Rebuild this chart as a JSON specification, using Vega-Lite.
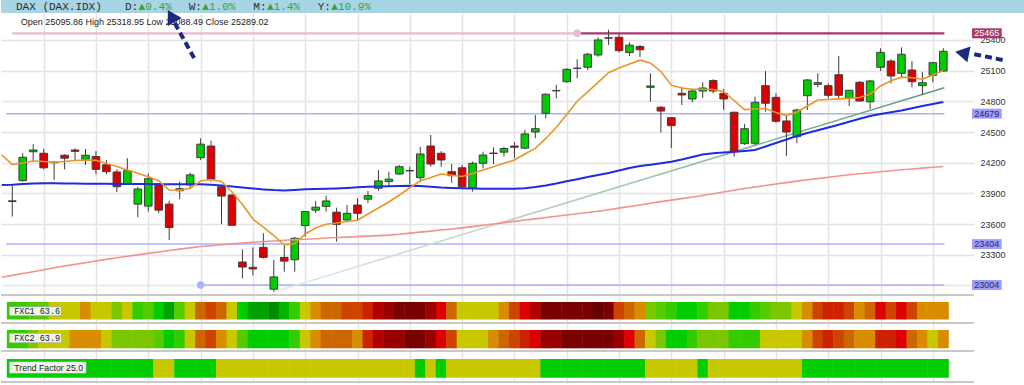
{
  "$schema": "https://vega.github.io/schema/vega-lite/v6.json",
  "padding": 0,
  "background": "white",
  "spacing": 0,
  "bounds": "flush",
  "resolve": {"scale": {"color": "independent", "x": "independent", "y": "independent"}},
  "config": {"view": {"stroke": null}},
  "datasets": {
    "bars": [
      {"i":0,"o":23820,"h":23983,"l":23673,"c":23827,"f1":-1,"f2":-1,"tf":-2},
      {"i":1,"o":24025,"h":24292,"l":24015,"c":24253,"f1":-1,"f2":-1,"tf":-2},
      {"i":2,"o":24307,"h":24381,"l":24205,"c":24324,"f1":0,"f2":1,"tf":-2},
      {"i":3,"o":24292,"h":24334,"l":24135,"c":24150,"f1":0,"f2":2,"tf":-2},
      {"i":4,"o":24200,"h":24218,"l":24032,"c":24204,"f1":2,"f2":2,"tf":-2},
      {"i":5,"o":24273,"h":24283,"l":24135,"c":24244,"f1":2,"f2":2,"tf":-2},
      {"i":6,"o":24324,"h":24341,"l":24226,"c":24311,"f1":2,"f2":3,"tf":-2},
      {"i":7,"o":24234,"h":24334,"l":24177,"c":24273,"f1":3,"f2":3,"tf":-2},
      {"i":8,"o":24260,"h":24314,"l":24087,"c":24135,"f1":2,"f2":3,"tf":-2},
      {"i":9,"o":24180,"h":24226,"l":24087,"c":24112,"f1":2,"f2":2,"tf":-2},
      {"i":10,"o":24109,"h":24135,"l":23913,"c":23965,"f1":1,"f2":1,"tf":-2},
      {"i":11,"o":23992,"h":24244,"l":23983,"c":24122,"f1":2,"f2":1,"tf":-2},
      {"i":12,"o":23795,"h":23965,"l":23667,"c":23943,"f1":-1,"f2":1,"tf":-2},
      {"i":13,"o":23776,"h":24095,"l":23722,"c":24043,"f1":0,"f2":1,"tf":-2},
      {"i":14,"o":23992,"h":23998,"l":23706,"c":23736,"f1":-2,"f2":0,"tf":2},
      {"i":15,"o":23795,"h":23827,"l":23444,"c":23567,"f1":-4,"f2":-2,"tf":2},
      {"i":16,"o":23926,"h":24015,"l":23843,"c":23946,"f1":0,"f2":-1,"tf":-2},
      {"i":17,"o":23983,"h":24103,"l":23950,"c":24081,"f1":2,"f2":2,"tf":-2},
      {"i":18,"o":24249,"h":24438,"l":24226,"c":24381,"f1":4,"f2":4,"tf":-2},
      {"i":19,"o":24363,"h":24415,"l":24015,"c":24039,"f1":5,"f2":5,"tf":-2},
      {"i":20,"o":23965,"h":23983,"l":23598,"c":23874,"f1":4,"f2":3,"tf":2},
      {"i":21,"o":23884,"h":23890,"l":23581,"c":23588,"f1":2,"f2":2,"tf":2},
      {"i":22,"o":23229,"h":23352,"l":23069,"c":23180,"f1":-2,"f2":0,"tf":2},
      {"i":23,"o":23177,"h":23372,"l":23097,"c":23161,"f1":-4,"f2":-2,"tf":2},
      {"i":24,"o":23372,"h":23510,"l":23264,"c":23274,"f1":-4,"f2":-2,"tf":2},
      {"i":25,"o":22963,"h":23249,"l":22939,"c":23083,"f1":-5,"f2":-2,"tf":2},
      {"i":26,"o":23274,"h":23395,"l":23134,"c":23238,"f1":-3,"f2":-2,"tf":2},
      {"i":27,"o":23251,"h":23476,"l":23134,"c":23461,"f1":-1,"f2":-1,"tf":2},
      {"i":28,"o":23585,"h":23725,"l":23476,"c":23722,"f1":2,"f2":2,"tf":2},
      {"i":29,"o":23736,"h":23826,"l":23708,"c":23765,"f1":3,"f2":3,"tf":2},
      {"i":30,"o":23773,"h":23878,"l":23722,"c":23826,"f1":4,"f2":4,"tf":2},
      {"i":31,"o":23716,"h":23760,"l":23428,"c":23598,"f1":4,"f2":4,"tf":2},
      {"i":32,"o":23640,"h":23786,"l":23618,"c":23705,"f1":5,"f2":4,"tf":2},
      {"i":33,"o":23786,"h":23852,"l":23640,"c":23705,"f1":5,"f2":3,"tf":2},
      {"i":34,"o":23843,"h":23924,"l":23804,"c":23878,"f1":6,"f2":6,"tf":2},
      {"i":35,"o":23950,"h":24129,"l":23924,"c":24022,"f1":8,"f2":8,"tf":2},
      {"i":36,"o":24015,"h":24112,"l":23965,"c":24039,"f1":9,"f2":9,"tf":2},
      {"i":37,"o":24089,"h":24177,"l":24081,"c":24161,"f1":10,"f2":9,"tf":2},
      {"i":38,"o":24120,"h":24161,"l":23992,"c":24123,"f1":10,"f2":10,"tf":2},
      {"i":39,"o":24053,"h":24356,"l":24015,"c":24285,"f1":10,"f2":10,"tf":-2},
      {"i":40,"o":24363,"h":24471,"l":24161,"c":24187,"f1":9,"f2":9,"tf":2},
      {"i":41,"o":24292,"h":24313,"l":24161,"c":24226,"f1":7,"f2":7,"tf":-2},
      {"i":42,"o":24112,"h":24187,"l":24005,"c":24073,"f1":4,"f2":5,"tf":2},
      {"i":43,"o":24150,"h":24177,"l":23950,"c":23965,"f1":2,"f2":2,"tf":2},
      {"i":44,"o":23950,"h":24210,"l":23917,"c":24194,"f1":2,"f2":2,"tf":2},
      {"i":45,"o":24194,"h":24307,"l":24145,"c":24275,"f1":2,"f2":2,"tf":2},
      {"i":46,"o":24290,"h":24351,"l":24187,"c":24294,"f1":2,"f2":3,"tf":2},
      {"i":47,"o":24303,"h":24356,"l":24260,"c":24338,"f1":3,"f2":4,"tf":2},
      {"i":48,"o":24363,"h":24402,"l":24244,"c":24351,"f1":5,"f2":5,"tf":2},
      {"i":49,"o":24342,"h":24520,"l":24332,"c":24481,"f1":7,"f2":6,"tf":2},
      {"i":50,"o":24500,"h":24666,"l":24439,"c":24532,"f1":8,"f2":7,"tf":2},
      {"i":51,"o":24683,"h":24878,"l":24634,"c":24869,"f1":10,"f2":9,"tf":-2},
      {"i":52,"o":24902,"h":24960,"l":24830,"c":24906,"f1":10,"f2":9,"tf":-2},
      {"i":53,"o":24992,"h":25123,"l":24982,"c":25113,"f1":10,"f2":10,"tf":-2},
      {"i":54,"o":25121,"h":25211,"l":25025,"c":25125,"f1":10,"f2":10,"tf":-2},
      {"i":55,"o":25133,"h":25275,"l":25106,"c":25260,"f1":10,"f2":10,"tf":-2},
      {"i":56,"o":25253,"h":25426,"l":25236,"c":25400,"f1":11,"f2":10,"tf":-2},
      {"i":57,"o":25417,"h":25500,"l":25351,"c":25421,"f1":10,"f2":10,"tf":-2},
      {"i":58,"o":25426,"h":25458,"l":25277,"c":25295,"f1":5,"f2":9,"tf":-2},
      {"i":59,"o":25277,"h":25375,"l":25241,"c":25349,"f1":4,"f2":7,"tf":-2},
      {"i":60,"o":25336,"h":25351,"l":25233,"c":25304,"f1":3,"f2":4,"tf":-2},
      {"i":61,"o":24937,"h":25074,"l":24796,"c":24950,"f1":1,"f2":2,"tf":2},
      {"i":62,"o":24742,"h":24754,"l":24494,"c":24705,"f1":0,"f2":1,"tf":2},
      {"i":63,"o":24640,"h":24644,"l":24342,"c":24562,"f1":-1,"f2":-2,"tf":2},
      {"i":64,"o":24878,"h":24943,"l":24764,"c":24862,"f1":-2,"f2":-2,"tf":2},
      {"i":65,"o":24823,"h":24911,"l":24790,"c":24901,"f1":-2,"f2":-1,"tf":2},
      {"i":66,"o":24901,"h":24986,"l":24832,"c":24930,"f1":-1,"f2":1,"tf":-2},
      {"i":67,"o":25003,"h":25016,"l":24878,"c":24901,"f1":1,"f2":1,"tf":2},
      {"i":68,"o":24878,"h":24920,"l":24715,"c":24823,"f1":1,"f2":1,"tf":2},
      {"i":69,"o":24693,"h":24699,"l":24260,"c":24307,"f1":-2,"f2":-1,"tf":2},
      {"i":70,"o":24386,"h":24578,"l":24373,"c":24532,"f1":-2,"f2":-1,"tf":2},
      {"i":71,"o":24390,"h":24845,"l":24370,"c":24790,"f1":-1,"f2":-1,"tf":2},
      {"i":72,"o":24953,"h":25096,"l":24699,"c":24781,"f1":0,"f2":2,"tf":2},
      {"i":73,"o":24839,"h":24878,"l":24591,"c":24605,"f1":1,"f2":2,"tf":2},
      {"i":74,"o":24608,"h":24657,"l":24266,"c":24500,"f1":1,"f2":2,"tf":2},
      {"i":75,"o":24454,"h":24728,"l":24390,"c":24715,"f1":2,"f2":2,"tf":2},
      {"i":76,"o":24855,"h":25015,"l":24715,"c":25009,"f1":3,"f2":3,"tf":-2},
      {"i":77,"o":24966,"h":25074,"l":24937,"c":24982,"f1":5,"f2":5,"tf":-2},
      {"i":78,"o":24953,"h":24976,"l":24830,"c":24859,"f1":6,"f2":6,"tf":-2},
      {"i":79,"o":25060,"h":25243,"l":24830,"c":24859,"f1":6,"f2":5,"tf":-2},
      {"i":80,"o":24830,"h":24911,"l":24754,"c":24908,"f1":5,"f2":4,"tf":-2},
      {"i":81,"o":24986,"h":24999,"l":24800,"c":24803,"f1":3,"f2":3,"tf":-2},
      {"i":82,"o":24796,"h":25009,"l":24725,"c":24999,"f1":4,"f2":3,"tf":-2},
      {"i":83,"o":25133,"h":25318,"l":25096,"c":25279,"f1":7,"f2":6,"tf":-2},
      {"i":84,"o":25194,"h":25211,"l":24976,"c":25048,"f1":5,"f2":6,"tf":-2},
      {"i":85,"o":25074,"h":25328,"l":25040,"c":25260,"f1":7,"f2":7,"tf":-2},
      {"i":86,"o":25106,"h":25194,"l":24937,"c":24992,"f1":5,"f2":4,"tf":-2},
      {"i":87,"o":24953,"h":25087,"l":24862,"c":24982,"f1":3,"f2":3,"tf":-2},
      {"i":88,"o":25054,"h":25185,"l":24986,"c":25178,"f1":3,"f2":2,"tf":-2},
      {"i":89,"o":25095.86,"h":25318.95,"l":25088.49,"c":25289.02,"f1":3,"f2":3,"tf":-2}
    ],
    "ma": [
      {"i":-1,"e":24275,"m":23982,"p":23080},{"i":0,"e":24182,"m":23984,"p":23098},{"i":1,"e":24197,"m":23992,"p":23116},{"i":2,"e":24217,"m":23997,"p":23134},{"i":3,"e":24212,"m":23999,"p":23154},{"i":4,"e":24205,"m":23998,"p":23173},{"i":5,"e":24212,"m":23997,"p":23190},{"i":6,"e":24221,"m":23996,"p":23206},{"i":7,"e":24226,"m":23995,"p":23222},{"i":8,"e":24223,"m":23994,"p":23239},{"i":9,"e":24192,"m":23993,"p":23255},
      {"i":10,"e":24162,"m":23992,"p":23270},{"i":11,"e":24129,"m":23992,"p":23285},{"i":12,"e":24096,"m":23991,"p":23299},{"i":13,"e":24062,"m":23991,"p":23313},{"i":14,"e":24023,"m":23990,"p":23327},{"i":15,"e":23933,"m":23990,"p":23342},{"i":16,"e":23931,"m":23989,"p":23355},{"i":17,"e":23950,"m":23989,"p":23367},{"i":18,"e":24021,"m":23989,"p":23380},{"i":19,"e":24036,"m":23984,"p":23388},
      {"i":20,"e":24016,"m":23976,"p":23397},{"i":21,"e":23913,"m":23968,"p":23406},{"i":22,"e":23791,"m":23957,"p":23414},{"i":23,"e":23649,"m":23948,"p":23422},{"i":24,"e":23571,"m":23939,"p":23429},{"i":25,"e":23488,"m":23932,"p":23435},{"i":26,"e":23395,"m":23928,"p":23442},{"i":27,"e":23410,"m":23933,"p":23448},{"i":28,"e":23503,"m":23940,"p":23452},{"i":29,"e":23561,"m":23943,"p":23457},
      {"i":30,"e":23598,"m":23945,"p":23463},{"i":31,"e":23610,"m":23948,"p":23468},{"i":32,"e":23625,"m":23953,"p":23472},{"i":33,"e":23638,"m":23959,"p":23477},{"i":34,"e":23698,"m":23965,"p":23482},{"i":35,"e":23757,"m":23967,"p":23487},{"i":36,"e":23816,"m":23969,"p":23492},{"i":37,"e":23884,"m":23972,"p":23500},{"i":38,"e":23955,"m":23974,"p":23511},{"i":39,"e":24021,"m":23972,"p":23521},
      {"i":40,"e":24055,"m":23964,"p":23531},{"i":41,"e":24089,"m":23957,"p":23542},{"i":42,"e":24077,"m":23953,"p":23552},{"i":43,"e":24065,"m":23949,"p":23563},{"i":44,"e":24094,"m":23947,"p":23575},{"i":45,"e":24129,"m":23946,"p":23588},{"i":46,"e":24161,"m":23946,"p":23601},{"i":47,"e":24194,"m":23946,"p":23614},{"i":48,"e":24226,"m":23946,"p":23626},{"i":49,"e":24285,"m":23951,"p":23639},
      {"i":50,"e":24340,"m":23962,"p":23651},{"i":51,"e":24437,"m":23977,"p":23664},{"i":52,"e":24544,"m":23996,"p":23676},{"i":53,"e":24671,"m":24018,"p":23689},{"i":54,"e":24801,"m":24039,"p":23701},{"i":55,"e":24893,"m":24060,"p":23713},{"i":56,"e":24986,"m":24080,"p":23726},{"i":57,"e":25079,"m":24099,"p":23740},{"i":58,"e":25126,"m":24124,"p":23756},{"i":59,"e":25165,"m":24148,"p":23772},
      {"i":60,"e":25202,"m":24168,"p":23787},{"i":61,"e":25175,"m":24179,"p":23803},{"i":62,"e":25092,"m":24195,"p":23819},{"i":63,"e":24958,"m":24209,"p":23834},{"i":64,"e":24930,"m":24231,"p":23849},{"i":65,"e":24918,"m":24256,"p":23865},{"i":66,"e":24918,"m":24279,"p":23880},{"i":67,"e":24916,"m":24292,"p":23897},{"i":68,"e":24894,"m":24300,"p":23913},{"i":69,"e":24808,"m":24306,"p":23930},
      {"i":70,"e":24719,"m":24315,"p":23947},{"i":71,"e":24725,"m":24324,"p":23962},{"i":72,"e":24730,"m":24358,"p":23977},{"i":73,"e":24690,"m":24393,"p":23991},{"i":74,"e":24660,"m":24427,"p":24005},{"i":75,"e":24696,"m":24461,"p":24020},{"i":76,"e":24754,"m":24490,"p":24033},{"i":77,"e":24813,"m":24518,"p":24044},{"i":78,"e":24818,"m":24544,"p":24057},{"i":79,"e":24824,"m":24571,"p":24070},
      {"i":80,"e":24829,"m":24600,"p":24082},{"i":81,"e":24838,"m":24629,"p":24092},{"i":82,"e":24870,"m":24657,"p":24102},{"i":83,"e":24950,"m":24676,"p":24111},{"i":84,"e":25001,"m":24694,"p":24121},{"i":85,"e":25036,"m":24710,"p":24131},{"i":86,"e":25030,"m":24732,"p":24139},{"i":87,"e":25016,"m":24754,"p":24147},{"i":88,"e":25057,"m":24774,"p":24155},{"i":89,"e":25102,"m":24794,"p":24162}
    ]
  },
  "vconcat": [
    {
      "width": 1024,
      "height": 13,
      "view": {"fill": "#a8d5e5", "stroke": null},
      "data": {"values": [{}]},
      "encoding": {
        "y": {"datum": 0.5, "type": "quantitative", "scale": {"domain": [0, 1], "nice": false, "zero": false}, "axis": null}
      },
      "layer": [
        {"mark": {"type": "text", "text": "DAX (DAX.IDX)", "align": "left", "baseline": "middle", "font": "Liberation Mono", "fontSize": 11, "color": "#2b2b2b"},
         "encoding": {"x": {"datum": 0.82, "type": "quantitative", "scale": {"domain": [-0.6, 96.28], "nice": false, "zero": false}, "axis": null}}},
        {"mark": {"type": "text", "text": "D:", "align": "left", "baseline": "middle", "font": "Liberation Mono", "fontSize": 11, "color": "#2b2b2b"},
         "encoding": {"x": {"datum": 11.13, "type": "quantitative", "scale": {"domain": [-0.6, 96.28], "nice": false, "zero": false}, "axis": null}}},
        {"mark": {"type": "text", "text": "▲0.4%", "align": "left", "baseline": "middle", "font": "Liberation Mono", "fontSize": 11, "color": "#3a9e3a"},
         "encoding": {"x": {"datum": 12.42, "type": "quantitative", "scale": {"domain": [-0.6, 96.28], "nice": false, "zero": false}, "axis": null}}},
        {"mark": {"type": "text", "text": "W:", "align": "left", "baseline": "middle", "font": "Liberation Mono", "fontSize": 11, "color": "#2b2b2b"},
         "encoding": {"x": {"datum": 17.16, "type": "quantitative", "scale": {"domain": [-0.6, 96.28], "nice": false, "zero": false}, "axis": null}}},
        {"mark": {"type": "text", "text": "▲1.0%", "align": "left", "baseline": "middle", "font": "Liberation Mono", "fontSize": 11, "color": "#3a9e3a"},
         "encoding": {"x": {"datum": 18.45, "type": "quantitative", "scale": {"domain": [-0.6, 96.28], "nice": false, "zero": false}, "axis": null}}},
        {"mark": {"type": "text", "text": "M:", "align": "left", "baseline": "middle", "font": "Liberation Mono", "fontSize": 11, "color": "#2b2b2b"},
         "encoding": {"x": {"datum": 23.27, "type": "quantitative", "scale": {"domain": [-0.6, 96.28], "nice": false, "zero": false}, "axis": null}}},
        {"mark": {"type": "text", "text": "▲1.4%", "align": "left", "baseline": "middle", "font": "Liberation Mono", "fontSize": 11, "color": "#3a9e3a"},
         "encoding": {"x": {"datum": 24.56, "type": "quantitative", "scale": {"domain": [-0.6, 96.28], "nice": false, "zero": false}, "axis": null}}},
        {"mark": {"type": "text", "text": "Y:", "align": "left", "baseline": "middle", "font": "Liberation Mono", "fontSize": 11, "color": "#2b2b2b"},
         "encoding": {"x": {"datum": 29.36, "type": "quantitative", "scale": {"domain": [-0.6, 96.28], "nice": false, "zero": false}, "axis": null}}},
        {"mark": {"type": "text", "text": "▲10.9%", "align": "left", "baseline": "middle", "font": "Liberation Mono", "fontSize": 11, "color": "#3a9e3a"},
         "encoding": {"x": {"datum": 30.65, "type": "quantitative", "scale": {"domain": [-0.6, 96.28], "nice": false, "zero": false}, "axis": null}}}
      ]
    },
    {
      "width": 973,
      "height": 282,
      "layer": [
        {
          "data": {"values": [
            {"lv": 25465, "x1": 0, "x2": 54, "k": "old"},
            {"lv": 25465, "x1": 54, "x2": 89.1, "k": "res"},
            {"lv": 24679, "x1": -0.6, "x2": 89.1, "k": "sup"},
            {"lv": 23404, "x1": -0.6, "x2": 89.1, "k": "sup"},
            {"lv": 23004, "x1": 18, "x2": 89.1, "k": "sup"}
          ]},
          "mark": {"type": "rule"},
          "encoding": {
            "x": {"field": "x1", "type": "quantitative", "scale": {"domain": [-0.6, 91.453], "nice": false, "zero": false},
                  "axis": {"orient": "bottom", "values": [3,8,13,18,23,28,33,38,43,48,53,58,63,68,73,78,83,88], "grid": true, "gridColor": "#e4e4e4", "gridWidth": 1.5, "labels": false, "ticks": false, "domain": false, "title": null}},
            "x2": {"field": "x2"},
            "y": {"field": "lv", "type": "quantitative", "scale": {"domain": [22906.4, 25663.5], "nice": false, "zero": false},
                  "axis": {"orient": "right", "values": [23000,23300,23600,23900,24200,24500,24800,25100,25400], "format": "d", "labelExpr": "datum.value == 23000 ? '' : datum.label", "grid": true, "gridColor": "#e4e4e4", "gridWidth": 1.5, "ticks": false, "domain": false, "labelPadding": 6, "labelFont": "Liberation Sans", "labelFontSize": 9, "labelColor": "#333333", "title": null}},
            "color": {"field": "k", "type": "nominal", "scale": {"domain": ["old", "res", "sup"], "range": ["#e9b9d0", "#a8376c", "#aab2ff"]}, "legend": null},
            "strokeWidth": {"condition": {"test": "datum.k === 'sup'", "value": 1.5}, "value": 2.2}
          }
        },
        {
          "data": {"values": [{"i": 54, "lv": 25465, "k": "old"}, {"i": 18, "lv": 23004, "k": "sup"}]},
          "mark": {"type": "point", "filled": true, "size": 55, "opacity": 1},
          "encoding": {
            "x": {"field": "i", "type": "quantitative", "scale": {"domain": [-0.6, 91.453], "nice": false, "zero": false},
                  "axis": {"orient": "bottom", "values": [3,8,13,18,23,28,33,38,43,48,53,58,63,68,73,78,83,88], "grid": true, "gridColor": "#e4e4e4", "gridWidth": 1.5, "labels": false, "ticks": false, "domain": false, "title": null}},
            "y": {"field": "lv", "type": "quantitative", "scale": {"domain": [22906.4, 25663.5], "nice": false, "zero": false},
                  "axis": {"orient": "right", "values": [23000,23300,23600,23900,24200,24500,24800,25100,25400], "format": "d", "labelExpr": "datum.value == 23000 ? '' : datum.label", "grid": true, "gridColor": "#e4e4e4", "gridWidth": 1.5, "ticks": false, "domain": false, "labelPadding": 6, "labelFont": "Liberation Sans", "labelFontSize": 9, "labelColor": "#333333", "title": null}},
            "color": {"field": "k", "type": "nominal", "scale": {"domain": ["old", "res", "sup"], "range": ["#e9b9d0", "#a8376c", "#aab2ff"]}, "legend": null}
          }
        },
        {
          "data": {"values": [{"i": 25, "v": 22936}, {"i": 89.1, "v": 24933}]},
          "mark": {"type": "line", "strokeWidth": 1.6, "stroke": {"gradient": "linear", "stops": [{"offset": 0, "color": "#e2e9e4"}, {"offset": 0.5, "color": "#a9cbb7"}, {"offset": 1, "color": "#5a9c7c"}]}},
          "encoding": {
            "x": {"field": "i", "type": "quantitative", "scale": {"domain": [-0.6, 91.453], "nice": false, "zero": false},
                  "axis": {"orient": "bottom", "values": [3,8,13,18,23,28,33,38,43,48,53,58,63,68,73,78,83,88], "grid": true, "gridColor": "#e4e4e4", "gridWidth": 1.5, "labels": false, "ticks": false, "domain": false, "title": null}},
            "y": {"field": "v", "type": "quantitative", "scale": {"domain": [22906.4, 25663.5], "nice": false, "zero": false},
                  "axis": {"orient": "right", "values": [23000,23300,23600,23900,24200,24500,24800,25100,25400], "format": "d", "labelExpr": "datum.value == 23000 ? '' : datum.label", "grid": true, "gridColor": "#e4e4e4", "gridWidth": 1.5, "ticks": false, "domain": false, "labelPadding": 6, "labelFont": "Liberation Sans", "labelFontSize": 9, "labelColor": "#333333", "title": null}}
          }
        },
        {
          "data": {"name": "bars"},
          "mark": {"type": "rule", "color": "#3d3d3d", "strokeWidth": 1},
          "encoding": {
            "x": {"field": "i", "type": "quantitative", "scale": {"domain": [-0.6, 91.453], "nice": false, "zero": false},
                  "axis": {"orient": "bottom", "values": [3,8,13,18,23,28,33,38,43,48,53,58,63,68,73,78,83,88], "grid": true, "gridColor": "#e4e4e4", "gridWidth": 1.5, "labels": false, "ticks": false, "domain": false, "title": null}},
            "y": {"field": "l", "type": "quantitative", "scale": {"domain": [22906.4, 25663.5], "nice": false, "zero": false},
                  "axis": {"orient": "right", "values": [23000,23300,23600,23900,24200,24500,24800,25100,25400], "format": "d", "labelExpr": "datum.value == 23000 ? '' : datum.label", "grid": true, "gridColor": "#e4e4e4", "gridWidth": 1.5, "ticks": false, "domain": false, "labelPadding": 6, "labelFont": "Liberation Sans", "labelFontSize": 9, "labelColor": "#333333", "title": null}},
            "y2": {"field": "h"}
          }
        },
        {
          "data": {"name": "bars"},
          "mark": {"type": "bar", "width": 7.6, "stroke": "#3d3d3d", "strokeWidth": 1},
          "encoding": {
            "x": {"field": "i", "type": "quantitative", "scale": {"domain": [-0.6, 91.453], "nice": false, "zero": false},
                  "axis": {"orient": "bottom", "values": [3,8,13,18,23,28,33,38,43,48,53,58,63,68,73,78,83,88], "grid": true, "gridColor": "#e4e4e4", "gridWidth": 1.5, "labels": false, "ticks": false, "domain": false, "title": null}},
            "y": {"field": "o", "type": "quantitative", "scale": {"domain": [22906.4, 25663.5], "nice": false, "zero": false},
                  "axis": {"orient": "right", "values": [23000,23300,23600,23900,24200,24500,24800,25100,25400], "format": "d", "labelExpr": "datum.value == 23000 ? '' : datum.label", "grid": true, "gridColor": "#e4e4e4", "gridWidth": 1.5, "ticks": false, "domain": false, "labelPadding": 6, "labelFont": "Liberation Sans", "labelFontSize": 9, "labelColor": "#333333", "title": null}},
            "y2": {"field": "c"},
            "fill": {"condition": {"test": "datum.c >= datum.o", "value": "#00cc00"}, "value": "#dd0000"}
          }
        },
        {
          "data": {"name": "ma"},
          "mark": {"type": "line", "color": "#f4918f", "strokeWidth": 1.6, "clip": true},
          "encoding": {
            "x": {"field": "i", "type": "quantitative", "scale": {"domain": [-0.6, 91.453], "nice": false, "zero": false},
                  "axis": {"orient": "bottom", "values": [3,8,13,18,23,28,33,38,43,48,53,58,63,68,73,78,83,88], "grid": true, "gridColor": "#e4e4e4", "gridWidth": 1.5, "labels": false, "ticks": false, "domain": false, "title": null}},
            "y": {"field": "p", "type": "quantitative", "scale": {"domain": [22906.4, 25663.5], "nice": false, "zero": false},
                  "axis": {"orient": "right", "values": [23000,23300,23600,23900,24200,24500,24800,25100,25400], "format": "d", "labelExpr": "datum.value == 23000 ? '' : datum.label", "grid": true, "gridColor": "#e4e4e4", "gridWidth": 1.5, "ticks": false, "domain": false, "labelPadding": 6, "labelFont": "Liberation Sans", "labelFontSize": 9, "labelColor": "#333333", "title": null}}
          }
        },
        {
          "data": {"name": "ma"},
          "mark": {"type": "line", "color": "#1f2ae6", "strokeWidth": 2, "clip": true},
          "encoding": {
            "x": {"field": "i", "type": "quantitative", "scale": {"domain": [-0.6, 91.453], "nice": false, "zero": false},
                  "axis": {"orient": "bottom", "values": [3,8,13,18,23,28,33,38,43,48,53,58,63,68,73,78,83,88], "grid": true, "gridColor": "#e4e4e4", "gridWidth": 1.5, "labels": false, "ticks": false, "domain": false, "title": null}},
            "y": {"field": "m", "type": "quantitative", "scale": {"domain": [22906.4, 25663.5], "nice": false, "zero": false},
                  "axis": {"orient": "right", "values": [23000,23300,23600,23900,24200,24500,24800,25100,25400], "format": "d", "labelExpr": "datum.value == 23000 ? '' : datum.label", "grid": true, "gridColor": "#e4e4e4", "gridWidth": 1.5, "ticks": false, "domain": false, "labelPadding": 6, "labelFont": "Liberation Sans", "labelFontSize": 9, "labelColor": "#333333", "title": null}}
          }
        },
        {
          "data": {"name": "ma"},
          "mark": {"type": "line", "color": "#ea9526", "strokeWidth": 1.6, "clip": true},
          "encoding": {
            "x": {"field": "i", "type": "quantitative", "scale": {"domain": [-0.6, 91.453], "nice": false, "zero": false},
                  "axis": {"orient": "bottom", "values": [3,8,13,18,23,28,33,38,43,48,53,58,63,68,73,78,83,88], "grid": true, "gridColor": "#e4e4e4", "gridWidth": 1.5, "labels": false, "ticks": false, "domain": false, "title": null}},
            "y": {"field": "e", "type": "quantitative", "scale": {"domain": [22906.4, 25663.5], "nice": false, "zero": false},
                  "axis": {"orient": "right", "values": [23000,23300,23600,23900,24200,24500,24800,25100,25400], "format": "d", "labelExpr": "datum.value == 23000 ? '' : datum.label", "grid": true, "gridColor": "#e4e4e4", "gridWidth": 1.5, "ticks": false, "domain": false, "labelPadding": 6, "labelFont": "Liberation Sans", "labelFontSize": 9, "labelColor": "#333333", "title": null}}
          }
        },
        {
          "data": {"values": [{"t": "Open 25095.86 High 25318.95 Low 25088.49 Close 25289.02"}]},
          "mark": {"type": "text", "align": "left", "baseline": "middle", "font": "Liberation Sans", "fontSize": 9, "color": "#222222"},
          "encoding": {
            "x": {"datum": 0.82, "type": "quantitative", "scale": {"domain": [-0.6, 91.453], "nice": false, "zero": false},
                  "axis": {"orient": "bottom", "values": [3,8,13,18,23,28,33,38,43,48,53,58,63,68,73,78,83,88], "grid": true, "gridColor": "#e4e4e4", "gridWidth": 1.5, "labels": false, "ticks": false, "domain": false, "title": null}},
            "y": {"datum": 25575, "type": "quantitative", "scale": {"domain": [22906.4, 25663.5], "nice": false, "zero": false},
                  "axis": {"orient": "right", "values": [23000,23300,23600,23900,24200,24500,24800,25100,25400], "format": "d", "labelExpr": "datum.value == 23000 ? '' : datum.label", "grid": true, "gridColor": "#e4e4e4", "gridWidth": 1.5, "ticks": false, "domain": false, "labelPadding": 6, "labelFont": "Liberation Sans", "labelFontSize": 9, "labelColor": "#333333", "title": null}},
            "text": {"field": "t"}
          }
        },
        {
          "data": {"values": [{"lv": 25465, "k": "res"}, {"lv": 24679, "k": "sup"}, {"lv": 23404, "k": "sup"}, {"lv": 23004, "k": "sup"}]},
          "mark": {"type": "rule", "strokeWidth": 10, "strokeCap": "butt"},
          "encoding": {
            "x": {"datum": 91.74, "type": "quantitative", "scale": {"domain": [-0.6, 91.453], "nice": false, "zero": false},
                  "axis": {"orient": "bottom", "values": [3,8,13,18,23,28,33,38,43,48,53,58,63,68,73,78,83,88], "grid": true, "gridColor": "#e4e4e4", "gridWidth": 1.5, "labels": false, "ticks": false, "domain": false, "title": null}},
            "x2": {"datum": 94.58},
            "y": {"field": "lv", "type": "quantitative", "scale": {"domain": [22906.4, 25663.5], "nice": false, "zero": false},
                  "axis": {"orient": "right", "values": [23000,23300,23600,23900,24200,24500,24800,25100,25400], "format": "d", "labelExpr": "datum.value == 23000 ? '' : datum.label", "grid": true, "gridColor": "#e4e4e4", "gridWidth": 1.5, "ticks": false, "domain": false, "labelPadding": 6, "labelFont": "Liberation Sans", "labelFontSize": 9, "labelColor": "#333333", "title": null}},
            "stroke": {"condition": {"test": "datum.k === 'res'", "value": "#a8386d"}, "value": "#9d9dfa"}
          }
        },
        {
          "data": {"values": [{"lv": 25465, "k": "res"}, {"lv": 24679, "k": "sup"}, {"lv": 23404, "k": "sup"}, {"lv": 23004, "k": "sup"}]},
          "mark": {"type": "text", "align": "center", "baseline": "middle", "font": "Liberation Sans", "fontSize": 9},
          "encoding": {
            "x": {"datum": 93.16, "type": "quantitative", "scale": {"domain": [-0.6, 91.453], "nice": false, "zero": false},
                  "axis": {"orient": "bottom", "values": [3,8,13,18,23,28,33,38,43,48,53,58,63,68,73,78,83,88], "grid": true, "gridColor": "#e4e4e4", "gridWidth": 1.5, "labels": false, "ticks": false, "domain": false, "title": null}},
            "y": {"field": "lv", "type": "quantitative", "scale": {"domain": [22906.4, 25663.5], "nice": false, "zero": false},
                  "axis": {"orient": "right", "values": [23000,23300,23600,23900,24200,24500,24800,25100,25400], "format": "d", "labelExpr": "datum.value == 23000 ? '' : datum.label", "grid": true, "gridColor": "#e4e4e4", "gridWidth": 1.5, "ticks": false, "domain": false, "labelPadding": 6, "labelFont": "Liberation Sans", "labelFontSize": 9, "labelColor": "#333333", "title": null}},
            "text": {"field": "lv", "type": "quantitative", "format": "d"},
            "color": {"condition": {"test": "datum.k === 'res'", "value": "#ffffff"}, "value": "#2a2a66"}
          }
        },
        {
          "data": {"values": [{}]},
          "mark": {"type": "rule", "color": "#1b2a7f", "strokeWidth": 4, "strokeDash": [7, 4], "strokeCap": "butt"},
          "encoding": {
            "x": {"datum": 17.38, "type": "quantitative", "scale": {"domain": [-0.6, 91.453], "nice": false, "zero": false},
                  "axis": {"orient": "bottom", "values": [3,8,13,18,23,28,33,38,43,48,53,58,63,68,73,78,83,88], "grid": true, "gridColor": "#e4e4e4", "gridWidth": 1.5, "labels": false, "ticks": false, "domain": false, "title": null}},
            "y": {"datum": 25223, "type": "quantitative", "scale": {"domain": [22906.4, 25663.5], "nice": false, "zero": false},
                  "axis": {"orient": "right", "values": [23000,23300,23600,23900,24200,24500,24800,25100,25400], "format": "d", "labelExpr": "datum.value == 23000 ? '' : datum.label", "grid": true, "gridColor": "#e4e4e4", "gridWidth": 1.5, "ticks": false, "domain": false, "labelPadding": 6, "labelFont": "Liberation Sans", "labelFontSize": 9, "labelColor": "#333333", "title": null}},
            "x2": {"datum": 15.48},
            "y2": {"datum": 25575}
          }
        },
        {
          "data": {"values": [{}]},
          "mark": {"type": "rule", "color": "#1b2a7f", "strokeWidth": 4, "strokeDash": [7, 4], "strokeCap": "butt"},
          "encoding": {
            "x": {"datum": 94.67, "type": "quantitative", "scale": {"domain": [-0.6, 91.453], "nice": false, "zero": false},
                  "axis": {"orient": "bottom", "values": [3,8,13,18,23,28,33,38,43,48,53,58,63,68,73,78,83,88], "grid": true, "gridColor": "#e4e4e4", "gridWidth": 1.5, "labels": false, "ticks": false, "domain": false, "title": null}},
            "y": {"datum": 25204, "type": "quantitative", "scale": {"domain": [22906.4, 25663.5], "nice": false, "zero": false},
                  "axis": {"orient": "right", "values": [23000,23300,23600,23900,24200,24500,24800,25100,25400], "format": "d", "labelExpr": "datum.value == 23000 ? '' : datum.label", "grid": true, "gridColor": "#e4e4e4", "gridWidth": 1.5, "ticks": false, "domain": false, "labelPadding": 6, "labelFont": "Liberation Sans", "labelFontSize": 9, "labelColor": "#333333", "title": null}},
            "x2": {"datum": 91.64},
            "y2": {"datum": 25267}
          }
        },
        {
          "data": {"values": [{}]},
          "mark": {"type": "point", "shape": "triangle-up", "filled": true, "size": 260, "angle": 330, "color": "#1b2a7f", "opacity": 1},
          "encoding": {
            "x": {"datum": 15.2, "type": "quantitative", "scale": {"domain": [-0.6, 91.453], "nice": false, "zero": false},
                  "axis": {"orient": "bottom", "values": [3,8,13,18,23,28,33,38,43,48,53,58,63,68,73,78,83,88], "grid": true, "gridColor": "#e4e4e4", "gridWidth": 1.5, "labels": false, "ticks": false, "domain": false, "title": null}},
            "y": {"datum": 25634, "type": "quantitative", "scale": {"domain": [22906.4, 25663.5], "nice": false, "zero": false},
                  "axis": {"orient": "right", "values": [23000,23300,23600,23900,24200,24500,24800,25100,25400], "format": "d", "labelExpr": "datum.value == 23000 ? '' : datum.label", "grid": true, "gridColor": "#e4e4e4", "gridWidth": 1.5, "ticks": false, "domain": false, "labelPadding": 6, "labelFont": "Liberation Sans", "labelFontSize": 9, "labelColor": "#333333", "title": null}}
          }
        },
        {
          "data": {"values": [{}]},
          "mark": {"type": "point", "shape": "triangle-up", "filled": true, "size": 260, "angle": 281, "color": "#1b2a7f", "opacity": 1},
          "encoding": {
            "x": {"datum": 90.79, "type": "quantitative", "scale": {"domain": [-0.6, 91.453], "nice": false, "zero": false},
                  "axis": {"orient": "bottom", "values": [3,8,13,18,23,28,33,38,43,48,53,58,63,68,73,78,83,88], "grid": true, "gridColor": "#e4e4e4", "gridWidth": 1.5, "labels": false, "ticks": false, "domain": false, "title": null}},
            "y": {"datum": 25272, "type": "quantitative", "scale": {"domain": [22906.4, 25663.5], "nice": false, "zero": false},
                  "axis": {"orient": "right", "values": [23000,23300,23600,23900,24200,24500,24800,25100,25400], "format": "d", "labelExpr": "datum.value == 23000 ? '' : datum.label", "grid": true, "gridColor": "#e4e4e4", "gridWidth": 1.5, "ticks": false, "domain": false, "labelPadding": 6, "labelFont": "Liberation Sans", "labelFontSize": 9, "labelColor": "#333333", "title": null}}
          }
        }
      ]
    },
    {
      "width": 973,
      "height": 28,
      "encoding": {
        "x": {"type": "quantitative", "scale": {"domain": [-0.6, 91.453], "nice": false, "zero": false},
              "axis": {"orient": "bottom", "values": [3,8,13,18,23,28,33,38,43,48,53,58,63,68,73,78,83,88], "grid": true, "gridColor": "#e4e4e4", "gridWidth": 1.5, "labels": false, "ticks": false, "domain": false, "title": null}}
      },
      "layer": [
        {
          "data": {"name": "bars"},
          "mark": {"type": "bar", "width": 10.9},
          "encoding": {
            "x": {"field": "i", "type": "quantitative"},
            "y": {"datum": 0.75, "type": "quantitative", "scale": {"domain": [0, 1], "nice": false, "zero": false}, "axis": null},
            "y2": {"datum": 0.125},
            "color": {"field": "f1", "type": "ordinal", "scale": {"domain": [-5,-4,-3,-2,-1,0,1,2,3,4,5,6,7,8,9,10,11], "range": ["#008a00","#00a200","#00b400","#00cc00","#33cc00","#55cc00","#7ac600","#c8c800","#d88c00","#cc6600","#cc4400","#cc2200","#dd0000","#b00000","#990000","#7a0000","#650000"]}, "legend": null}
          }
        },
        {
          "data": {"values": [{}]},
          "mark": {"type": "rule", "color": "#c9c9c9", "strokeWidth": 2},
          "encoding": {"x": null, "y": {"datum": 1, "type": "quantitative", "scale": {"domain": [0, 1], "nice": false, "zero": false}, "axis": null}}
        },
        {
          "data": {"values": [{}]},
          "mark": {"type": "rect", "fill": "#eef6ea", "stroke": "#9c9c9c", "strokeWidth": 0.6},
          "encoding": {
            "x": {"datum": -0.29, "type": "quantitative"},
            "x2": {"datum": 4.7},
            "y": {"datum": 0.582, "type": "quantitative", "scale": {"domain": [0, 1], "nice": false, "zero": false}, "axis": null},
            "y2": {"datum": 0.261}
          }
        },
        {
          "data": {"values": [{}]},
          "mark": {"type": "text", "text": "FXC1 63.6", "align": "left", "baseline": "middle", "font": "Liberation Mono", "fontSize": 8.5, "color": "#1a1a1a"},
          "encoding": {
            "x": {"datum": 0.19, "type": "quantitative"},
            "y": {"datum": 0.43, "type": "quantitative", "scale": {"domain": [0, 1], "nice": false, "zero": false}, "axis": null}
          }
        }
      ]
    },
    {
      "width": 973,
      "height": 28,
      "encoding": {
        "x": {"type": "quantitative", "scale": {"domain": [-0.6, 91.453], "nice": false, "zero": false},
              "axis": {"orient": "bottom", "values": [3,8,13,18,23,28,33,38,43,48,53,58,63,68,73,78,83,88], "grid": true, "gridColor": "#e4e4e4", "gridWidth": 1.5, "labels": false, "ticks": false, "domain": false, "title": null}}
      },
      "layer": [
        {
          "data": {"name": "bars"},
          "mark": {"type": "bar", "width": 10.9},
          "encoding": {
            "x": {"field": "i", "type": "quantitative"},
            "y": {"datum": 0.75, "type": "quantitative", "scale": {"domain": [0, 1], "nice": false, "zero": false}, "axis": null},
            "y2": {"datum": 0.096},
            "color": {"field": "f2", "type": "ordinal", "scale": {"domain": [-5,-4,-3,-2,-1,0,1,2,3,4,5,6,7,8,9,10,11], "range": ["#008a00","#00a200","#00b400","#00cc00","#33cc00","#55cc00","#7ac600","#c8c800","#d88c00","#cc6600","#cc4400","#cc2200","#dd0000","#b00000","#990000","#7a0000","#650000"]}, "legend": null}
          }
        },
        {
          "data": {"values": [{}]},
          "mark": {"type": "rule", "color": "#c9c9c9", "strokeWidth": 2},
          "encoding": {"x": null, "y": {"datum": 1, "type": "quantitative", "scale": {"domain": [0, 1], "nice": false, "zero": false}, "axis": null}}
        },
        {
          "data": {"values": [{}]},
          "mark": {"type": "rect", "fill": "#eef6ea", "stroke": "#9c9c9c", "strokeWidth": 0.6},
          "encoding": {
            "x": {"datum": -0.29, "type": "quantitative"},
            "x2": {"datum": 4.7},
            "y": {"datum": 0.632, "type": "quantitative", "scale": {"domain": [0, 1], "nice": false, "zero": false}, "axis": null},
            "y2": {"datum": 0.298}
          }
        },
        {
          "data": {"values": [{}]},
          "mark": {"type": "text", "text": "FXC2 63.9", "align": "left", "baseline": "middle", "font": "Liberation Mono", "fontSize": 8.5, "color": "#1a1a1a"},
          "encoding": {
            "x": {"datum": 0.19, "type": "quantitative"},
            "y": {"datum": 0.464, "type": "quantitative", "scale": {"domain": [0, 1], "nice": false, "zero": false}, "axis": null}
          }
        }
      ]
    },
    {
      "width": 973,
      "height": 32,
      "encoding": {
        "x": {"type": "quantitative", "scale": {"domain": [-0.6, 91.453], "nice": false, "zero": false},
              "axis": {"orient": "bottom", "values": [3,8,13,18,23,28,33,38,43,48,53,58,63,68,73,78,83,88], "grid": true, "gridColor": "#e4e4e4", "gridWidth": 1.5, "labels": false, "ticks": false, "domain": false, "title": null}}
      },
      "layer": [
        {
          "data": {"name": "bars"},
          "mark": {"type": "bar", "width": 10.9},
          "encoding": {
            "x": {"field": "i", "type": "quantitative"},
            "y": {"datum": 0.75, "type": "quantitative", "scale": {"domain": [0, 1], "nice": false, "zero": false}, "axis": null},
            "y2": {"datum": 0.166},
            "color": {"field": "tf", "type": "ordinal", "scale": {"domain": [-5,-4,-3,-2,-1,0,1,2,3,4,5,6,7,8,9,10,11], "range": ["#008a00","#00a200","#00b400","#00cc00","#33cc00","#55cc00","#7ac600","#c8c800","#d88c00","#cc6600","#cc4400","#cc2200","#dd0000","#b00000","#990000","#7a0000","#650000"]}, "legend": null}
          }
        },
        {
          "data": {"values": [{"p": 1}, {"p": 0.03}]},
          "mark": {"type": "rule", "color": "#c9c9c9", "strokeWidth": 2},
          "encoding": {"x": null, "y": {"field": "p", "type": "quantitative", "scale": {"domain": [0, 1], "nice": false, "zero": false}, "axis": null}}
        },
        {
          "data": {"values": [{}]},
          "mark": {"type": "rect", "fill": "#eef6ea", "stroke": "#9c9c9c", "strokeWidth": 0.6},
          "encoding": {
            "x": {"datum": -0.29, "type": "quantitative"},
            "x2": {"datum": 7.06},
            "y": {"datum": 0.666, "type": "quantitative", "scale": {"domain": [0, 1], "nice": false, "zero": false}, "axis": null},
            "y2": {"datum": 0.303}
          }
        },
        {
          "data": {"values": [{}]},
          "mark": {"type": "text", "text": "Trend Factor 25.0", "align": "left", "baseline": "middle", "font": "Liberation Sans", "fontSize": 8.7, "color": "#1a1a1a"},
          "encoding": {
            "x": {"datum": 0.19, "type": "quantitative"},
            "y": {"datum": 0.484, "type": "quantitative", "scale": {"domain": [0, 1], "nice": false, "zero": false}, "axis": null}
          }
        }
      ]
    }
  ]
}
